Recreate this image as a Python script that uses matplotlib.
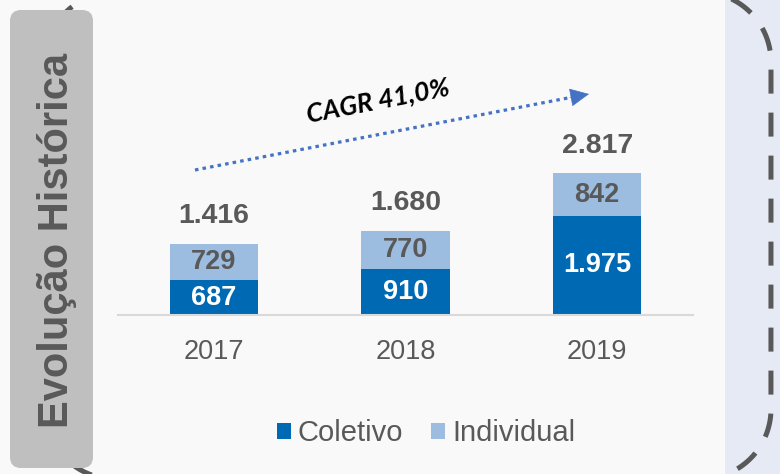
import matplotlib
matplotlib.use("Agg")
import matplotlib.pyplot as plt
from matplotlib.patches import FancyBboxPatch, Rectangle, Patch
import numpy as np

plt.rcParams['font.family'] = ['Liberation Sans', 'DejaVu Sans']

# ---- data ----
years = ["2017", "2018", "2019"]
coletivo = [687, 910, 1975]
individual = [729, 770, 842]
series_names = ["Coletivo", "Individual"]
title_text = "Evolução Histórica"
cagr_text = "CAGR 41,0%"

def fmt(v):
    return f"{v:,}".replace(",", ".")

W, H = 780, 474
DARK = "#0069b4"
LIGHT = "#9dbde0"
GRAY_TXT = "#595959"
ARROW = "#4472c4"

fig = plt.figure(figsize=(W / 100, H / 100), dpi=100, facecolor="#f9f9f9")

# ---- background / decoration overlay (pixel coordinates) ----
bg = fig.add_axes([0, 0, 1, 1], zorder=0)
bg.set_xlim(0, W)
bg.set_ylim(H, 0)
bg.axis("off")
bg.add_patch(Rectangle((725, -5), 60, H + 10, facecolor="#e6eaf4", edgecolor="none"))

# dashed rounded frame (polyline)
def rounded_rect(x0, y0, x1, y1, r, n=40):
    pts = []
    corners = [((x1 - r, y0 + r), -90, 0), ((x1 - r, y1 - r), 0, 90),
               ((x0 + r, y1 - r), 90, 180), ((x0 + r, y0 + r), 180, 270)]
    for (cx, cy), a0, a1 in corners:
        t = np.radians(np.linspace(a0, a1, n))
        pts.append(np.column_stack([cx + r * np.cos(t), cy + r * np.sin(t)]))
    pts.append(pts[0][:1])
    return np.vstack(pts)

frame = rounded_rect(45, -8, 771, 479, 70)
bg.plot(frame[:, 0], frame[:, 1], color="#595959", lw=3.6,
        linestyle=(0, (4.8, 3.8)), solid_capstyle="butt", dash_capstyle="butt")

bg.add_patch(FancyBboxPatch((10, 10), 83, 458,
                            boxstyle="round,pad=0,rounding_size=11",
                            facecolor="#bfbfbf", edgecolor="none", zorder=3))
bg.text(57, 240, title_text, rotation=90, ha="center", va="center",
        fontsize=30, fontweight="bold", color=GRAY_TXT, zorder=4)

# CAGR arrow: dotted shaft + solid head
bg.plot([195, 573], [170, 97], color=ARROW, lw=2.3,
        linestyle=(0, (1.1, 1.3)), dash_capstyle="butt")
bg.annotate("", xy=(589, 94), xytext=(570, 97.6),
            arrowprops=dict(arrowstyle="-|>,head_length=1.25,head_width=0.6",
                            color=ARROW, lw=0.5, shrinkA=0, shrinkB=0))
bg.text(378, 101, cagr_text, rotation=11, ha="center", va="center",
        fontsize=19, fontweight="bold", fontstyle="italic",
        family=["Lato", "DejaVu Sans"], color="black",
        rotation_mode="anchor")

# ---- bar chart ----
base_px = 315
left_px, right_px = 118, 693
top_px = 40
ax = fig.add_axes([left_px / W, (H - base_px) / H, (right_px - left_px) / W,
                   (base_px - top_px) / H], zorder=1)
ax.set_facecolor("none")
x = np.arange(len(years))
ax.set_xlim(-0.5, len(years) - 0.5)
ax.set_ylim(0, (base_px - top_px) * 19.9)

bw = 0.46
ax.bar(x, coletivo, width=bw, color=DARK, label=series_names[0])
ax.bar(x, individual, width=bw, bottom=coletivo, color=LIGHT, label=series_names[1])

for i in range(len(years)):
    c, ind = coletivo[i], individual[i]
    ax.text(x[i], c / 2, fmt(c), ha="center", va="center", color="white",
            fontsize=19.5, fontweight="bold")
    ax.text(x[i], c + ind / 2, fmt(ind), ha="center", va="center", color=GRAY_TXT,
            fontsize=19.5, fontweight="bold")
    ax.annotate(fmt(c + ind), xy=(x[i], c + ind), xytext=(0, 20),
                textcoords="offset points", ha="center", va="center",
                color=GRAY_TXT, fontsize=20.5, fontweight="bold")

for s in ["top", "right", "left"]:
    ax.spines[s].set_visible(False)
ax.spines["bottom"].set_color("#d9d9d9")
ax.spines["bottom"].set_linewidth(1.5)
ax.set_yticks([])
ax.set_xticks(x)
ax.set_xticklabels(years, fontsize=19.5, color=GRAY_TXT)
ax.tick_params(axis="x", length=0, pad=17)

handles = [Patch(facecolor=DARK, edgecolor="none"), Patch(facecolor=LIGHT, edgecolor="none")]
leg = fig.legend(handles, series_names, loc="center", bbox_to_anchor=(426 / W, 1 - 433 / H),
                 ncol=2, frameon=False, fontsize=21, handlelength=0.48, handleheight=0.48,
                 handletextpad=0.25, columnspacing=0.95, borderpad=0)
for t in leg.get_texts():
    t.set_color(GRAY_TXT)

fig.savefig("out.png", dpi=100, facecolor=fig.get_facecolor())
